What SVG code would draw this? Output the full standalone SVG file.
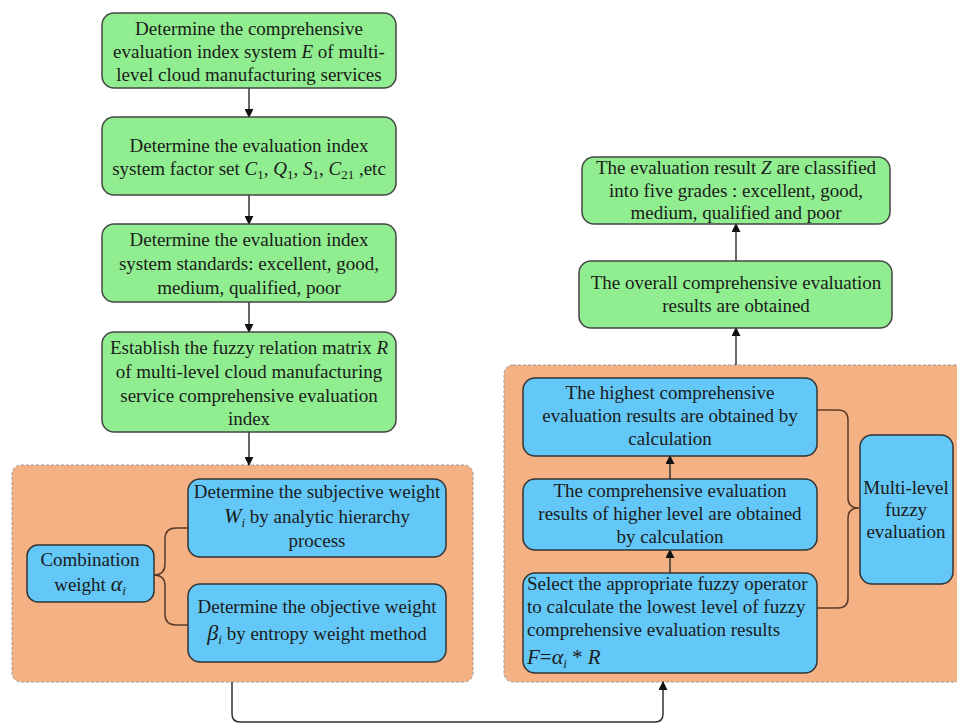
<svg xmlns="http://www.w3.org/2000/svg" width="957" height="724" viewBox="0 0 957 724">
<defs>
<marker id="ah" viewBox="0 0 10 10" refX="9" refY="5" markerWidth="9" markerHeight="9" markerUnits="userSpaceOnUse" orient="auto">
<path d="M0,0 L10,5 L0,10 z" fill="#111"/>
</marker>
<style>
.g{fill:#90EE90;stroke:#444;stroke-width:1.5}
.b{fill:#63C8F7;stroke:#333;stroke-width:1.5}
.panel{fill:#F4B183;stroke:#999;stroke-width:1;stroke-dasharray:3 2}
text{font-family:"Liberation Serif","Times New Roman",serif;font-size:19px;fill:#1b1b1b}
.c{text-anchor:middle}
.i{font-style:italic}
.s{font-size:13px}
.con{fill:none;stroke:#333;stroke-width:1.5}
.br{fill:none;stroke:#5b3a29;stroke-width:1.5}
</style>
</defs>
<rect width="957" height="724" fill="#fff"/>

<g id="panel-left"><rect class="panel" x="12" y="465" width="461" height="217" rx="9"/></g>
<g id="panel-right"><rect class="panel" x="504" y="365" width="470" height="317" rx="9"/></g>

<g id="connectors">
<line class="con" x1="249" y1="88" x2="249" y2="117" marker-end="url(#ah)"/>
<line class="con" x1="249" y1="195" x2="249" y2="224" marker-end="url(#ah)"/>
<line class="con" x1="249" y1="302" x2="249" y2="332" marker-end="url(#ah)"/>
<line class="con" x1="249" y1="432" x2="249" y2="465" marker-end="url(#ah)"/>
<line class="con" x1="736" y1="261" x2="736" y2="224" marker-end="url(#ah)"/>
<line class="con" x1="736" y1="365" x2="736" y2="328" marker-end="url(#ah)"/>
<line class="con" x1="670" y1="479" x2="670" y2="456" marker-end="url(#ah)"/>
<line class="con" x1="670" y1="573" x2="670" y2="550" marker-end="url(#ah)"/>
<path class="con" d="M232,682 L232,714 Q232,722 240,722 L655,722 Q663,722 663,714 L663,682" marker-end="url(#ah)"/>
<path class="br" d="M154,575 Q165,575 165,564 L165,539 Q165,528 176,528 L188,528 M154,575 Q165,575 165,586 L165,614 Q165,625 176,625 L188,625"/>
<path class="br" d="M817,410 L838,410 Q848,410 848,420 L848,498 Q848,508 859,508 M859,508 Q848,508 848,518 L848,598 Q848,608 838,608 L817,608"/>
</g>

<g id="n1">
<rect class="g" x="102" y="13" width="294" height="75" rx="12"/>
<text class="c" x="249" y="35">Determine the comprehensive</text>
<text class="c" x="249" y="58">evaluation index system <tspan class="i">E</tspan> of multi-</text>
<text class="c" x="249" y="81">level cloud manufacturing services</text>
</g>
<g id="n2">
<rect class="g" x="102" y="117" width="294" height="78" rx="12"/>
<text class="c" x="249" y="152">Determine the evaluation index</text>
<text class="c" x="249" y="175">system factor set <tspan class="i">C</tspan><tspan class="s" dy="4">1</tspan><tspan dy="-4">, </tspan><tspan class="i">Q</tspan><tspan class="s" dy="4">1</tspan><tspan dy="-4">, </tspan><tspan class="i">S</tspan><tspan class="s" dy="4">1</tspan><tspan dy="-4">, </tspan><tspan class="i">C</tspan><tspan class="s" dy="4">21</tspan><tspan dy="-4"> ,etc</tspan></text>
</g>
<g id="n3">
<rect class="g" x="102" y="224" width="294" height="78" rx="12"/>
<text class="c" x="249" y="246">Determine the evaluation index</text>
<text class="c" x="249" y="270">system standards: excellent, good,</text>
<text class="c" x="249" y="294">medium, qualified, poor</text>
</g>
<g id="n4">
<rect class="g" x="102" y="332" width="294" height="100" rx="12"/>
<text class="c" x="249" y="354">Establish the fuzzy relation matrix <tspan class="i">R</tspan></text>
<text class="c" x="249" y="378">of multi-level cloud manufacturing</text>
<text class="c" x="249" y="402">service comprehensive evaluation</text>
<text class="c" x="249" y="425">index</text>
</g>

<g id="n-comb">
<rect class="b" x="27" y="545" width="127" height="57" rx="11"/>
<text class="c" x="90" y="566">Combination</text>
<text class="c" x="90" y="591">weight  <tspan class="i" font-size="22">α</tspan><tspan class="i s" dy="4">i</tspan></text>
</g>
<g id="n-subj">
<rect class="b" x="188" y="479" width="258" height="78" rx="12"/>
<text class="c" x="317" y="498">Determine the subjective weight</text>
<text class="c" x="317" y="523"><tspan class="i" font-size="21">W</tspan><tspan class="i s" dy="4">i</tspan><tspan dy="-4"> by analytic hierarchy</tspan></text>
<text class="c" x="317" y="547">process</text>
</g>
<g id="n-obj">
<rect class="b" x="188" y="584" width="258" height="78" rx="12"/>
<text class="c" x="317" y="613">Determine the objective weight</text>
<text class="c" x="317" y="640"><tspan class="i" font-size="22">β</tspan><tspan class="i s" dy="4">i</tspan><tspan dy="-4">  by entropy weight method</tspan></text>
</g>

<g id="n-z">
<rect class="g" x="582" y="157" width="308" height="67" rx="12"/>
<text class="c" x="736" y="174">The evaluation result <tspan class="i">Z</tspan> are classified</text>
<text class="c" x="736" y="197">into five grades : excellent, good,</text>
<text class="c" x="736" y="219">medium, qualified and poor</text>
</g>
<g id="n-overall">
<rect class="g" x="579" y="261" width="313" height="67" rx="12"/>
<text class="c" x="736" y="289">The overall comprehensive evaluation</text>
<text class="c" x="736" y="312">results are obtained</text>
</g>

<g id="n-highest">
<rect class="b" x="523" y="378" width="294" height="78" rx="12"/>
<text class="c" x="670" y="399">The highest comprehensive</text>
<text class="c" x="670" y="422">evaluation results are obtained by</text>
<text class="c" x="670" y="445">calculation</text>
</g>
<g id="n-higher">
<rect class="b" x="523" y="479" width="294" height="71" rx="12"/>
<text class="c" x="670" y="497">The comprehensive evaluation</text>
<text class="c" x="670" y="520">results of higher level are obtained</text>
<text class="c" x="670" y="543">by calculation</text>
</g>
<g id="n-select">
<rect class="b" x="523" y="573" width="294" height="100" rx="12"/>
<text x="527" y="590">Select the appropriate fuzzy operator</text>
<text x="527" y="613">to calculate the lowest level of fuzzy</text>
<text x="527" y="636">comprehensive evaluation results</text>
<text x="527" y="664"><tspan class="i" font-size="21">F</tspan><tspan font-size="21">=</tspan><tspan class="i" font-size="22">α</tspan><tspan class="i s" dy="4">i</tspan><tspan font-size="21" dy="-4"> * </tspan><tspan class="i" font-size="21">R</tspan></text>
</g>
<g id="n-multi">
<rect class="b" x="860" y="435" width="93" height="149" rx="12"/>
<text class="c" x="906" y="494">Multi-level</text>
<text class="c" x="906" y="516">fuzzy</text>
<text class="c" x="906" y="538">evaluation</text>
</g>
</svg>
